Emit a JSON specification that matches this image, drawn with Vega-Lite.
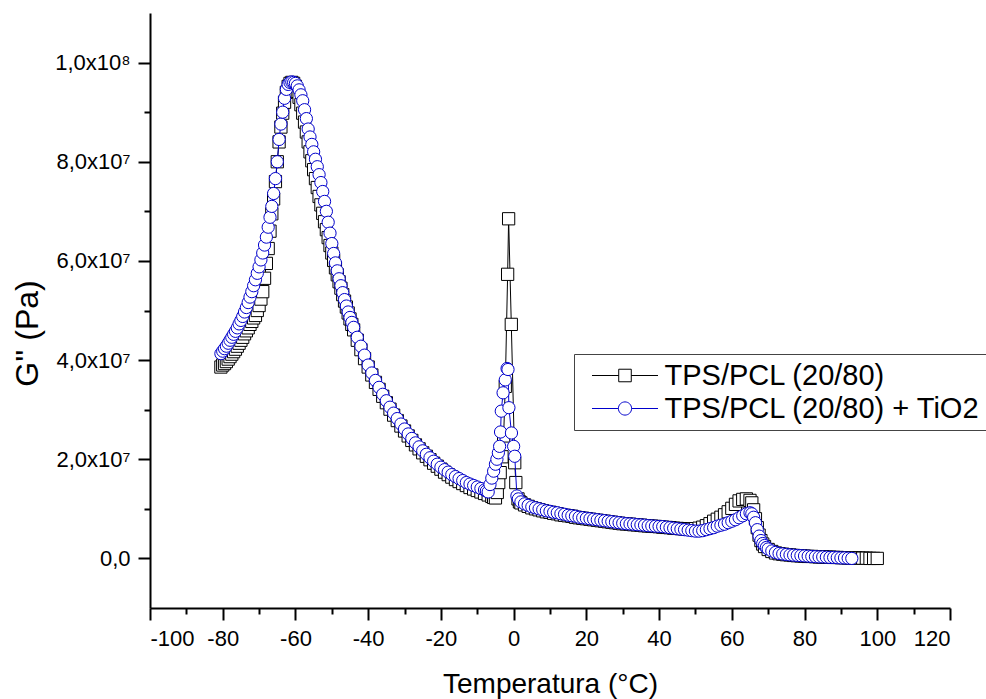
{
  "$schema": "https://vega.github.io/schema/vega-lite/v6.json",
  "width": 800,
  "height": 595,
  "autosize": {"type": "none"},
  "padding": {"left": 150, "top": 13, "right": 36, "bottom": 91},
  "background": "white",
  "config": {
    "view": {"stroke": null},
    "font": "Liberation Sans"
  },
  "data": {"values": [
    {"amostra":"TPS/PCL (20/80)","T":-80.5,"G":38.6e6},{"amostra":"TPS/PCL (20/80)","T":-80,"G":39.0e6},{"amostra":"TPS/PCL (20/80)","T":-79.5,"G":39.3e6},{"amostra":"TPS/PCL (20/80)","T":-79,"G":39.7e6},{"amostra":"TPS/PCL (20/80)","T":-78.5,"G":40.2e6},{"amostra":"TPS/PCL (20/80)","T":-78,"G":40.7e6},{"amostra":"TPS/PCL (20/80)","T":-77.5,"G":41.2e6},{"amostra":"TPS/PCL (20/80)","T":-77,"G":41.7e6},{"amostra":"TPS/PCL (20/80)","T":-76.5,"G":42.2e6},{"amostra":"TPS/PCL (20/80)","T":-76,"G":42.8e6},{"amostra":"TPS/PCL (20/80)","T":-75.5,"G":43.4e6},{"amostra":"TPS/PCL (20/80)","T":-75,"G":44.0e6},{"amostra":"TPS/PCL (20/80)","T":-74.5,"G":44.6e6},{"amostra":"TPS/PCL (20/80)","T":-74,"G":45.3e6},{"amostra":"TPS/PCL (20/80)","T":-73.5,"G":45.9e6},{"amostra":"TPS/PCL (20/80)","T":-73,"G":46.5e6},{"amostra":"TPS/PCL (20/80)","T":-72.5,"G":47.2e6},{"amostra":"TPS/PCL (20/80)","T":-72,"G":47.8e6},{"amostra":"TPS/PCL (20/80)","T":-71.5,"G":48.5e6},{"amostra":"TPS/PCL (20/80)","T":-71,"G":49.0e6},{"amostra":"TPS/PCL (20/80)","T":-70.5,"G":50.0e6},{"amostra":"TPS/PCL (20/80)","T":-70,"G":51.0e6},{"amostra":"TPS/PCL (20/80)","T":-69.5,"G":52.3e6},{"amostra":"TPS/PCL (20/80)","T":-69,"G":53.8e6},{"amostra":"TPS/PCL (20/80)","T":-68.5,"G":56.5e6},{"amostra":"TPS/PCL (20/80)","T":-68,"G":59.5e6},{"amostra":"TPS/PCL (20/80)","T":-67.5,"G":62.5e6},{"amostra":"TPS/PCL (20/80)","T":-67,"G":66.0e6},{"amostra":"TPS/PCL (20/80)","T":-66.5,"G":69.5e6},{"amostra":"TPS/PCL (20/80)","T":-66,"G":72.5e6},{"amostra":"TPS/PCL (20/80)","T":-65.5,"G":76.0e6},{"amostra":"TPS/PCL (20/80)","T":-65,"G":80.0e6},{"amostra":"TPS/PCL (20/80)","T":-64.5,"G":84.0e6},{"amostra":"TPS/PCL (20/80)","T":-64,"G":87.0e6},{"amostra":"TPS/PCL (20/80)","T":-63.5,"G":89.8e6},{"amostra":"TPS/PCL (20/80)","T":-63,"G":92.0e6},{"amostra":"TPS/PCL (20/80)","T":-62.5,"G":94.0e6},{"amostra":"TPS/PCL (20/80)","T":-62,"G":95.2e6},{"amostra":"TPS/PCL (20/80)","T":-61.5,"G":95.8e6},{"amostra":"TPS/PCL (20/80)","T":-61,"G":96.0e6},{"amostra":"TPS/PCL (20/80)","T":-60.5,"G":95.8e6},{"amostra":"TPS/PCL (20/80)","T":-60,"G":95.2e6},{"amostra":"TPS/PCL (20/80)","T":-59.5,"G":94.2e6},{"amostra":"TPS/PCL (20/80)","T":-59,"G":93.0e6},{"amostra":"TPS/PCL (20/80)","T":-58.5,"G":91.5e6},{"amostra":"TPS/PCL (20/80)","T":-58,"G":89.8e6},{"amostra":"TPS/PCL (20/80)","T":-57.5,"G":88.0e6},{"amostra":"TPS/PCL (20/80)","T":-57,"G":86.0e6},{"amostra":"TPS/PCL (20/80)","T":-56.5,"G":84.0e6},{"amostra":"TPS/PCL (20/80)","T":-56,"G":82.0e6},{"amostra":"TPS/PCL (20/80)","T":-55.5,"G":80.2e6},{"amostra":"TPS/PCL (20/80)","T":-55,"G":78.4e6},{"amostra":"TPS/PCL (20/80)","T":-54.5,"G":76.6e6},{"amostra":"TPS/PCL (20/80)","T":-54,"G":74.8e6},{"amostra":"TPS/PCL (20/80)","T":-53.5,"G":73.0e6},{"amostra":"TPS/PCL (20/80)","T":-53,"G":71.3e6},{"amostra":"TPS/PCL (20/80)","T":-52.5,"G":69.6e6},{"amostra":"TPS/PCL (20/80)","T":-52,"G":67.9e6},{"amostra":"TPS/PCL (20/80)","T":-51.5,"G":66.3e6},{"amostra":"TPS/PCL (20/80)","T":-51,"G":64.7e6},{"amostra":"TPS/PCL (20/80)","T":-50.5,"G":63.1e6},{"amostra":"TPS/PCL (20/80)","T":-50,"G":61.6e6},{"amostra":"TPS/PCL (20/80)","T":-49.5,"G":60.1e6},{"amostra":"TPS/PCL (20/80)","T":-49,"G":58.6e6},{"amostra":"TPS/PCL (20/80)","T":-48.5,"G":57.2e6},{"amostra":"TPS/PCL (20/80)","T":-48,"G":55.8e6},{"amostra":"TPS/PCL (20/80)","T":-47.5,"G":54.5e6},{"amostra":"TPS/PCL (20/80)","T":-47,"G":53.2e6},{"amostra":"TPS/PCL (20/80)","T":-46.5,"G":51.9e6},{"amostra":"TPS/PCL (20/80)","T":-46,"G":50.7e6},{"amostra":"TPS/PCL (20/80)","T":-45.5,"G":49.5e6},{"amostra":"TPS/PCL (20/80)","T":-45,"G":48.3e6},{"amostra":"TPS/PCL (20/80)","T":-44.5,"G":47.2e6},{"amostra":"TPS/PCL (20/80)","T":-44,"G":46.1e6},{"amostra":"TPS/PCL (20/80)","T":-43,"G":44.0e6},{"amostra":"TPS/PCL (20/80)","T":-42,"G":42.1e6},{"amostra":"TPS/PCL (20/80)","T":-41,"G":40.3e6},{"amostra":"TPS/PCL (20/80)","T":-40,"G":38.6e6},{"amostra":"TPS/PCL (20/80)","T":-39,"G":37.0e6},{"amostra":"TPS/PCL (20/80)","T":-38,"G":35.5e6},{"amostra":"TPS/PCL (20/80)","T":-37,"G":34.1e6},{"amostra":"TPS/PCL (20/80)","T":-36,"G":32.7e6},{"amostra":"TPS/PCL (20/80)","T":-35,"G":31.4e6},{"amostra":"TPS/PCL (20/80)","T":-34,"G":30.1e6},{"amostra":"TPS/PCL (20/80)","T":-33,"G":28.9e6},{"amostra":"TPS/PCL (20/80)","T":-32,"G":27.8e6},{"amostra":"TPS/PCL (20/80)","T":-31,"G":26.7e6},{"amostra":"TPS/PCL (20/80)","T":-30,"G":25.7e6},{"amostra":"TPS/PCL (20/80)","T":-29,"G":24.7e6},{"amostra":"TPS/PCL (20/80)","T":-28,"G":23.8e6},{"amostra":"TPS/PCL (20/80)","T":-27,"G":22.9e6},{"amostra":"TPS/PCL (20/80)","T":-26,"G":22.1e6},{"amostra":"TPS/PCL (20/80)","T":-25,"G":21.3e6},{"amostra":"TPS/PCL (20/80)","T":-24,"G":20.6e6},{"amostra":"TPS/PCL (20/80)","T":-23,"G":19.9e6},{"amostra":"TPS/PCL (20/80)","T":-22,"G":19.2e6},{"amostra":"TPS/PCL (20/80)","T":-21,"G":18.6e6},{"amostra":"TPS/PCL (20/80)","T":-20,"G":18.0e6},{"amostra":"TPS/PCL (20/80)","T":-19,"G":17.4e6},{"amostra":"TPS/PCL (20/80)","T":-18,"G":16.9e6},{"amostra":"TPS/PCL (20/80)","T":-17,"G":16.4e6},{"amostra":"TPS/PCL (20/80)","T":-16,"G":15.9e6},{"amostra":"TPS/PCL (20/80)","T":-15,"G":15.5e6},{"amostra":"TPS/PCL (20/80)","T":-14,"G":15.1e6},{"amostra":"TPS/PCL (20/80)","T":-13,"G":14.7e6},{"amostra":"TPS/PCL (20/80)","T":-12,"G":14.3e6},{"amostra":"TPS/PCL (20/80)","T":-11,"G":14.0e6},{"amostra":"TPS/PCL (20/80)","T":-10,"G":13.7e6},{"amostra":"TPS/PCL (20/80)","T":-9,"G":13.4e6},{"amostra":"TPS/PCL (20/80)","T":-8,"G":13.1e6},{"amostra":"TPS/PCL (20/80)","T":-7,"G":12.8e6},{"amostra":"TPS/PCL (20/80)","T":-6,"G":12.5e6},{"amostra":"TPS/PCL (20/80)","T":-5.5,"G":12.3e6},{"amostra":"TPS/PCL (20/80)","T":-5,"G":12.2e6},{"amostra":"TPS/PCL (20/80)","T":-4.5,"G":13.3e6},{"amostra":"TPS/PCL (20/80)","T":-4.1,"G":15.3e6},{"amostra":"TPS/PCL (20/80)","T":-3.7,"G":17.3e6},{"amostra":"TPS/PCL (20/80)","T":-3.2,"G":20.5e6},{"amostra":"TPS/PCL (20/80)","T":-2.75,"G":24.7e6},{"amostra":"TPS/PCL (20/80)","T":-2.3,"G":34.7e6},{"amostra":"TPS/PCL (20/80)","T":-1.65,"G":57.3e6},{"amostra":"TPS/PCL (20/80)","T":-1.38,"G":68.5e6},{"amostra":"TPS/PCL (20/80)","T":-0.64,"G":47.2e6},{"amostra":"TPS/PCL (20/80)","T":0.3,"G":19.3e6},{"amostra":"TPS/PCL (20/80)","T":0.6,"G":15.3e6},{"amostra":"TPS/PCL (20/80)","T":1.2,"G":12.0e6},{"amostra":"TPS/PCL (20/80)","T":1.6,"G":11.4e6},{"amostra":"TPS/PCL (20/80)","T":2,"G":11.2e6},{"amostra":"TPS/PCL (20/80)","T":3,"G":10.8e6},{"amostra":"TPS/PCL (20/80)","T":4,"G":10.5e6},{"amostra":"TPS/PCL (20/80)","T":5,"G":10.2e6},{"amostra":"TPS/PCL (20/80)","T":6,"G":10.0e6},{"amostra":"TPS/PCL (20/80)","T":7,"G":9.8e6},{"amostra":"TPS/PCL (20/80)","T":8,"G":9.6e6},{"amostra":"TPS/PCL (20/80)","T":9,"G":9.4e6},{"amostra":"TPS/PCL (20/80)","T":10,"G":9.3e6},{"amostra":"TPS/PCL (20/80)","T":11,"G":9.1e6},{"amostra":"TPS/PCL (20/80)","T":12,"G":9.0e6},{"amostra":"TPS/PCL (20/80)","T":13,"G":8.8e6},{"amostra":"TPS/PCL (20/80)","T":14,"G":8.7e6},{"amostra":"TPS/PCL (20/80)","T":15,"G":8.6e6},{"amostra":"TPS/PCL (20/80)","T":16,"G":8.5e6},{"amostra":"TPS/PCL (20/80)","T":17,"G":8.3e6},{"amostra":"TPS/PCL (20/80)","T":18,"G":8.2e6},{"amostra":"TPS/PCL (20/80)","T":19,"G":8.1e6},{"amostra":"TPS/PCL (20/80)","T":20,"G":8.0e6},{"amostra":"TPS/PCL (20/80)","T":21,"G":7.9e6},{"amostra":"TPS/PCL (20/80)","T":22,"G":7.8e6},{"amostra":"TPS/PCL (20/80)","T":23,"G":7.7e6},{"amostra":"TPS/PCL (20/80)","T":24,"G":7.6e6},{"amostra":"TPS/PCL (20/80)","T":25,"G":7.5e6},{"amostra":"TPS/PCL (20/80)","T":26,"G":7.4e6},{"amostra":"TPS/PCL (20/80)","T":27,"G":7.3e6},{"amostra":"TPS/PCL (20/80)","T":28,"G":7.2e6},{"amostra":"TPS/PCL (20/80)","T":29,"G":7.1e6},{"amostra":"TPS/PCL (20/80)","T":30,"G":7.0e6},{"amostra":"TPS/PCL (20/80)","T":31,"G":6.95e6},{"amostra":"TPS/PCL (20/80)","T":32,"G":6.9e6},{"amostra":"TPS/PCL (20/80)","T":33,"G":6.8e6},{"amostra":"TPS/PCL (20/80)","T":34,"G":6.75e6},{"amostra":"TPS/PCL (20/80)","T":35,"G":6.7e6},{"amostra":"TPS/PCL (20/80)","T":36,"G":6.6e6},{"amostra":"TPS/PCL (20/80)","T":37,"G":6.55e6},{"amostra":"TPS/PCL (20/80)","T":38,"G":6.5e6},{"amostra":"TPS/PCL (20/80)","T":39,"G":6.45e6},{"amostra":"TPS/PCL (20/80)","T":40,"G":6.4e6},{"amostra":"TPS/PCL (20/80)","T":41,"G":6.3e6},{"amostra":"TPS/PCL (20/80)","T":42,"G":6.25e6},{"amostra":"TPS/PCL (20/80)","T":43,"G":6.2e6},{"amostra":"TPS/PCL (20/80)","T":44,"G":6.1e6},{"amostra":"TPS/PCL (20/80)","T":45,"G":6.05e6},{"amostra":"TPS/PCL (20/80)","T":46,"G":6.0e6},{"amostra":"TPS/PCL (20/80)","T":47,"G":5.95e6},{"amostra":"TPS/PCL (20/80)","T":48,"G":5.9e6},{"amostra":"TPS/PCL (20/80)","T":49,"G":5.9e6},{"amostra":"TPS/PCL (20/80)","T":50,"G":6.0e6},{"amostra":"TPS/PCL (20/80)","T":51,"G":6.1e6},{"amostra":"TPS/PCL (20/80)","T":52,"G":6.3e6},{"amostra":"TPS/PCL (20/80)","T":53,"G":6.6e6},{"amostra":"TPS/PCL (20/80)","T":54,"G":7.0e6},{"amostra":"TPS/PCL (20/80)","T":55,"G":7.5e6},{"amostra":"TPS/PCL (20/80)","T":56,"G":7.9e6},{"amostra":"TPS/PCL (20/80)","T":57,"G":8.3e6},{"amostra":"TPS/PCL (20/80)","T":58,"G":8.8e6},{"amostra":"TPS/PCL (20/80)","T":59,"G":9.4e6},{"amostra":"TPS/PCL (20/80)","T":60,"G":10.1e6},{"amostra":"TPS/PCL (20/80)","T":61,"G":10.9e6},{"amostra":"TPS/PCL (20/80)","T":62,"G":11.6e6},{"amostra":"TPS/PCL (20/80)","T":63,"G":11.9e6},{"amostra":"TPS/PCL (20/80)","T":64,"G":12.0e6},{"amostra":"TPS/PCL (20/80)","T":65,"G":11.7e6},{"amostra":"TPS/PCL (20/80)","T":65.5,"G":11.2e6},{"amostra":"TPS/PCL (20/80)","T":66,"G":9.8e6},{"amostra":"TPS/PCL (20/80)","T":66.5,"G":8.0e6},{"amostra":"TPS/PCL (20/80)","T":67,"G":6.2e6},{"amostra":"TPS/PCL (20/80)","T":67.5,"G":4.7e6},{"amostra":"TPS/PCL (20/80)","T":68,"G":3.6e6},{"amostra":"TPS/PCL (20/80)","T":68.5,"G":2.9e6},{"amostra":"TPS/PCL (20/80)","T":69,"G":2.4e6},{"amostra":"TPS/PCL (20/80)","T":70,"G":1.8e6},{"amostra":"TPS/PCL (20/80)","T":71,"G":1.4e6},{"amostra":"TPS/PCL (20/80)","T":72,"G":1.1e6},{"amostra":"TPS/PCL (20/80)","T":73,"G":0.95e6},{"amostra":"TPS/PCL (20/80)","T":74,"G":0.85e6},{"amostra":"TPS/PCL (20/80)","T":75,"G":0.75e6},{"amostra":"TPS/PCL (20/80)","T":76,"G":0.7e6},{"amostra":"TPS/PCL (20/80)","T":77,"G":0.6e6},{"amostra":"TPS/PCL (20/80)","T":78,"G":0.55e6},{"amostra":"TPS/PCL (20/80)","T":79,"G":0.5e6},{"amostra":"TPS/PCL (20/80)","T":80,"G":0.45e6},{"amostra":"TPS/PCL (20/80)","T":81,"G":0.4e6},{"amostra":"TPS/PCL (20/80)","T":82,"G":0.4e6},{"amostra":"TPS/PCL (20/80)","T":83,"G":0.35e6},{"amostra":"TPS/PCL (20/80)","T":84,"G":0.3e6},{"amostra":"TPS/PCL (20/80)","T":85,"G":0.3e6},{"amostra":"TPS/PCL (20/80)","T":86,"G":0.25e6},{"amostra":"TPS/PCL (20/80)","T":87,"G":0.25e6},{"amostra":"TPS/PCL (20/80)","T":88,"G":0.2e6},{"amostra":"TPS/PCL (20/80)","T":89,"G":0.2e6},{"amostra":"TPS/PCL (20/80)","T":90,"G":0.15e6},{"amostra":"TPS/PCL (20/80)","T":91,"G":0.15e6},{"amostra":"TPS/PCL (20/80)","T":92,"G":0.1e6},{"amostra":"TPS/PCL (20/80)","T":93,"G":0.1e6},{"amostra":"TPS/PCL (20/80)","T":94,"G":0.1e6},{"amostra":"TPS/PCL (20/80)","T":95,"G":0.05e6},{"amostra":"TPS/PCL (20/80)","T":96,"G":0.05e6},{"amostra":"TPS/PCL (20/80)","T":97,"G":0.05e6},{"amostra":"TPS/PCL (20/80)","T":98,"G":0},{"amostra":"TPS/PCL (20/80)","T":99,"G":0},{"amostra":"TPS/PCL (20/80)","T":100,"G":0},
    {"amostra":"TPS/PCL (20/80) + TiO2","T":-80.5,"G":41.3e6},{"amostra":"TPS/PCL (20/80) + TiO2","T":-80,"G":41.8e6},{"amostra":"TPS/PCL (20/80) + TiO2","T":-79.5,"G":42.3e6},{"amostra":"TPS/PCL (20/80) + TiO2","T":-79,"G":42.8e6},{"amostra":"TPS/PCL (20/80) + TiO2","T":-78.5,"G":43.4e6},{"amostra":"TPS/PCL (20/80) + TiO2","T":-78,"G":44.0e6},{"amostra":"TPS/PCL (20/80) + TiO2","T":-77.5,"G":44.6e6},{"amostra":"TPS/PCL (20/80) + TiO2","T":-77,"G":45.2e6},{"amostra":"TPS/PCL (20/80) + TiO2","T":-76.5,"G":45.8e6},{"amostra":"TPS/PCL (20/80) + TiO2","T":-76,"G":46.5e6},{"amostra":"TPS/PCL (20/80) + TiO2","T":-75.5,"G":47.3e6},{"amostra":"TPS/PCL (20/80) + TiO2","T":-75,"G":48.0e6},{"amostra":"TPS/PCL (20/80) + TiO2","T":-74.5,"G":48.8e6},{"amostra":"TPS/PCL (20/80) + TiO2","T":-74,"G":49.7e6},{"amostra":"TPS/PCL (20/80) + TiO2","T":-73.5,"G":50.6e6},{"amostra":"TPS/PCL (20/80) + TiO2","T":-73,"G":51.6e6},{"amostra":"TPS/PCL (20/80) + TiO2","T":-72.5,"G":52.7e6},{"amostra":"TPS/PCL (20/80) + TiO2","T":-72,"G":53.8e6},{"amostra":"TPS/PCL (20/80) + TiO2","T":-71.5,"G":55.0e6},{"amostra":"TPS/PCL (20/80) + TiO2","T":-71,"G":56.2e6},{"amostra":"TPS/PCL (20/80) + TiO2","T":-70.5,"G":57.5e6},{"amostra":"TPS/PCL (20/80) + TiO2","T":-70,"G":58.8e6},{"amostra":"TPS/PCL (20/80) + TiO2","T":-69.5,"G":60.2e6},{"amostra":"TPS/PCL (20/80) + TiO2","T":-69,"G":61.6e6},{"amostra":"TPS/PCL (20/80) + TiO2","T":-68.5,"G":63.2e6},{"amostra":"TPS/PCL (20/80) + TiO2","T":-68,"G":64.8e6},{"amostra":"TPS/PCL (20/80) + TiO2","T":-67.5,"G":66.8e6},{"amostra":"TPS/PCL (20/80) + TiO2","T":-67,"G":68.8e6},{"amostra":"TPS/PCL (20/80) + TiO2","T":-66.5,"G":71.0e6},{"amostra":"TPS/PCL (20/80) + TiO2","T":-66,"G":73.6e6},{"amostra":"TPS/PCL (20/80) + TiO2","T":-65.5,"G":76.6e6},{"amostra":"TPS/PCL (20/80) + TiO2","T":-65,"G":80.0e6},{"amostra":"TPS/PCL (20/80) + TiO2","T":-64.5,"G":84.5e6},{"amostra":"TPS/PCL (20/80) + TiO2","T":-64,"G":87.6e6},{"amostra":"TPS/PCL (20/80) + TiO2","T":-63.5,"G":90.0e6},{"amostra":"TPS/PCL (20/80) + TiO2","T":-63,"G":92.8e6},{"amostra":"TPS/PCL (20/80) + TiO2","T":-62.5,"G":94.6e6},{"amostra":"TPS/PCL (20/80) + TiO2","T":-62,"G":95.6e6},{"amostra":"TPS/PCL (20/80) + TiO2","T":-61.5,"G":96.0e6},{"amostra":"TPS/PCL (20/80) + TiO2","T":-61,"G":96.1e6},{"amostra":"TPS/PCL (20/80) + TiO2","T":-60.5,"G":96.0e6},{"amostra":"TPS/PCL (20/80) + TiO2","T":-60,"G":95.8e6},{"amostra":"TPS/PCL (20/80) + TiO2","T":-59.5,"G":95.3e6},{"amostra":"TPS/PCL (20/80) + TiO2","T":-59,"G":94.5e6},{"amostra":"TPS/PCL (20/80) + TiO2","T":-58.5,"G":93.5e6},{"amostra":"TPS/PCL (20/80) + TiO2","T":-58,"G":92.3e6},{"amostra":"TPS/PCL (20/80) + TiO2","T":-57.5,"G":90.5e6},{"amostra":"TPS/PCL (20/80) + TiO2","T":-57,"G":88.7e6},{"amostra":"TPS/PCL (20/80) + TiO2","T":-56.5,"G":86.6e6},{"amostra":"TPS/PCL (20/80) + TiO2","T":-56,"G":85.0e6},{"amostra":"TPS/PCL (20/80) + TiO2","T":-55.5,"G":83.5e6},{"amostra":"TPS/PCL (20/80) + TiO2","T":-55,"G":82.0e6},{"amostra":"TPS/PCL (20/80) + TiO2","T":-54.5,"G":80.5e6},{"amostra":"TPS/PCL (20/80) + TiO2","T":-54,"G":79.0e6},{"amostra":"TPS/PCL (20/80) + TiO2","T":-53.5,"G":77.4e6},{"amostra":"TPS/PCL (20/80) + TiO2","T":-53,"G":75.8e6},{"amostra":"TPS/PCL (20/80) + TiO2","T":-52.5,"G":74.0e6},{"amostra":"TPS/PCL (20/80) + TiO2","T":-52,"G":72.0e6},{"amostra":"TPS/PCL (20/80) + TiO2","T":-51.5,"G":70.0e6},{"amostra":"TPS/PCL (20/80) + TiO2","T":-51,"G":67.8e6},{"amostra":"TPS/PCL (20/80) + TiO2","T":-50.5,"G":65.6e6},{"amostra":"TPS/PCL (20/80) + TiO2","T":-50,"G":63.5e6},{"amostra":"TPS/PCL (20/80) + TiO2","T":-49.5,"G":61.5e6},{"amostra":"TPS/PCL (20/80) + TiO2","T":-49,"G":59.6e6},{"amostra":"TPS/PCL (20/80) + TiO2","T":-48.5,"G":58.0e6},{"amostra":"TPS/PCL (20/80) + TiO2","T":-48,"G":56.4e6},{"amostra":"TPS/PCL (20/80) + TiO2","T":-47.5,"G":55.0e6},{"amostra":"TPS/PCL (20/80) + TiO2","T":-47,"G":53.6e6},{"amostra":"TPS/PCL (20/80) + TiO2","T":-46.5,"G":52.2e6},{"amostra":"TPS/PCL (20/80) + TiO2","T":-46,"G":50.9e6},{"amostra":"TPS/PCL (20/80) + TiO2","T":-45.5,"G":49.7e6},{"amostra":"TPS/PCL (20/80) + TiO2","T":-45,"G":48.6e6},{"amostra":"TPS/PCL (20/80) + TiO2","T":-44.5,"G":47.6e6},{"amostra":"TPS/PCL (20/80) + TiO2","T":-44,"G":46.6e6},{"amostra":"TPS/PCL (20/80) + TiO2","T":-43,"G":44.6e6},{"amostra":"TPS/PCL (20/80) + TiO2","T":-42,"G":42.8e6},{"amostra":"TPS/PCL (20/80) + TiO2","T":-41,"G":41.0e6},{"amostra":"TPS/PCL (20/80) + TiO2","T":-40,"G":39.0e6},{"amostra":"TPS/PCL (20/80) + TiO2","T":-39,"G":37.4e6},{"amostra":"TPS/PCL (20/80) + TiO2","T":-38,"G":35.9e6},{"amostra":"TPS/PCL (20/80) + TiO2","T":-37,"G":34.5e6},{"amostra":"TPS/PCL (20/80) + TiO2","T":-36,"G":33.1e6},{"amostra":"TPS/PCL (20/80) + TiO2","T":-35,"G":31.8e6},{"amostra":"TPS/PCL (20/80) + TiO2","T":-34,"G":30.5e6},{"amostra":"TPS/PCL (20/80) + TiO2","T":-33,"G":29.3e6},{"amostra":"TPS/PCL (20/80) + TiO2","T":-32,"G":28.2e6},{"amostra":"TPS/PCL (20/80) + TiO2","T":-31,"G":27.1e6},{"amostra":"TPS/PCL (20/80) + TiO2","T":-30,"G":26.1e6},{"amostra":"TPS/PCL (20/80) + TiO2","T":-29,"G":25.1e6},{"amostra":"TPS/PCL (20/80) + TiO2","T":-28,"G":24.2e6},{"amostra":"TPS/PCL (20/80) + TiO2","T":-27,"G":23.3e6},{"amostra":"TPS/PCL (20/80) + TiO2","T":-26,"G":22.5e6},{"amostra":"TPS/PCL (20/80) + TiO2","T":-25,"G":21.7e6},{"amostra":"TPS/PCL (20/80) + TiO2","T":-24,"G":21.0e6},{"amostra":"TPS/PCL (20/80) + TiO2","T":-23,"G":20.3e6},{"amostra":"TPS/PCL (20/80) + TiO2","T":-22,"G":19.6e6},{"amostra":"TPS/PCL (20/80) + TiO2","T":-21,"G":19.0e6},{"amostra":"TPS/PCL (20/80) + TiO2","T":-20,"G":18.4e6},{"amostra":"TPS/PCL (20/80) + TiO2","T":-19,"G":17.9e6},{"amostra":"TPS/PCL (20/80) + TiO2","T":-18,"G":17.4e6},{"amostra":"TPS/PCL (20/80) + TiO2","T":-17,"G":16.9e6},{"amostra":"TPS/PCL (20/80) + TiO2","T":-16,"G":16.5e6},{"amostra":"TPS/PCL (20/80) + TiO2","T":-15,"G":16.1e6},{"amostra":"TPS/PCL (20/80) + TiO2","T":-14,"G":15.7e6},{"amostra":"TPS/PCL (20/80) + TiO2","T":-13,"G":15.3e6},{"amostra":"TPS/PCL (20/80) + TiO2","T":-12,"G":15.0e6},{"amostra":"TPS/PCL (20/80) + TiO2","T":-11,"G":14.7e6},{"amostra":"TPS/PCL (20/80) + TiO2","T":-10,"G":14.4e6},{"amostra":"TPS/PCL (20/80) + TiO2","T":-9,"G":14.1e6},{"amostra":"TPS/PCL (20/80) + TiO2","T":-8,"G":13.8e6},{"amostra":"TPS/PCL (20/80) + TiO2","T":-7.5,"G":13.6e6},{"amostra":"TPS/PCL (20/80) + TiO2","T":-7,"G":13.4e6},{"amostra":"TPS/PCL (20/80) + TiO2","T":-6.5,"G":14.9e6},{"amostra":"TPS/PCL (20/80) + TiO2","T":-6,"G":16.2e6},{"amostra":"TPS/PCL (20/80) + TiO2","T":-5.5,"G":17.6e6},{"amostra":"TPS/PCL (20/80) + TiO2","T":-5,"G":19.0e6},{"amostra":"TPS/PCL (20/80) + TiO2","T":-4.6,"G":20.0e6},{"amostra":"TPS/PCL (20/80) + TiO2","T":-4.2,"G":21.3e6},{"amostra":"TPS/PCL (20/80) + TiO2","T":-3.85,"G":22.6e6},{"amostra":"TPS/PCL (20/80) + TiO2","T":-3.6,"G":25.5e6},{"amostra":"TPS/PCL (20/80) + TiO2","T":-3.4,"G":29.7e6},{"amostra":"TPS/PCL (20/80) + TiO2","T":-2.9,"G":33.4e6},{"amostra":"TPS/PCL (20/80) + TiO2","T":-2.3,"G":36.0e6},{"amostra":"TPS/PCL (20/80) + TiO2","T":-1.8,"G":38.3e6},{"amostra":"TPS/PCL (20/80) + TiO2","T":-1.55,"G":38.1e6},{"amostra":"TPS/PCL (20/80) + TiO2","T":-1.3,"G":30.4e6},{"amostra":"TPS/PCL (20/80) + TiO2","T":-0.6,"G":25.3e6},{"amostra":"TPS/PCL (20/80) + TiO2","T":0,"G":22.6e6},{"amostra":"TPS/PCL (20/80) + TiO2","T":0.3,"G":20.6e6},{"amostra":"TPS/PCL (20/80) + TiO2","T":0.9,"G":12.6e6},{"amostra":"TPS/PCL (20/80) + TiO2","T":1.3,"G":12.0e6},{"amostra":"TPS/PCL (20/80) + TiO2","T":2,"G":11.4e6},{"amostra":"TPS/PCL (20/80) + TiO2","T":3,"G":11.0e6},{"amostra":"TPS/PCL (20/80) + TiO2","T":4,"G":10.7e6},{"amostra":"TPS/PCL (20/80) + TiO2","T":5,"G":10.4e6},{"amostra":"TPS/PCL (20/80) + TiO2","T":6,"G":10.2e6},{"amostra":"TPS/PCL (20/80) + TiO2","T":7,"G":10.0e6},{"amostra":"TPS/PCL (20/80) + TiO2","T":8,"G":9.8e6},{"amostra":"TPS/PCL (20/80) + TiO2","T":9,"G":9.6e6},{"amostra":"TPS/PCL (20/80) + TiO2","T":10,"G":9.5e6},{"amostra":"TPS/PCL (20/80) + TiO2","T":11,"G":9.3e6},{"amostra":"TPS/PCL (20/80) + TiO2","T":12,"G":9.2e6},{"amostra":"TPS/PCL (20/80) + TiO2","T":13,"G":9.0e6},{"amostra":"TPS/PCL (20/80) + TiO2","T":14,"G":8.9e6},{"amostra":"TPS/PCL (20/80) + TiO2","T":15,"G":8.7e6},{"amostra":"TPS/PCL (20/80) + TiO2","T":16,"G":8.6e6},{"amostra":"TPS/PCL (20/80) + TiO2","T":17,"G":8.5e6},{"amostra":"TPS/PCL (20/80) + TiO2","T":18,"G":8.3e6},{"amostra":"TPS/PCL (20/80) + TiO2","T":19,"G":8.2e6},{"amostra":"TPS/PCL (20/80) + TiO2","T":20,"G":8.1e6},{"amostra":"TPS/PCL (20/80) + TiO2","T":21,"G":8.0e6},{"amostra":"TPS/PCL (20/80) + TiO2","T":22,"G":7.9e6},{"amostra":"TPS/PCL (20/80) + TiO2","T":23,"G":7.8e6},{"amostra":"TPS/PCL (20/80) + TiO2","T":24,"G":7.7e6},{"amostra":"TPS/PCL (20/80) + TiO2","T":25,"G":7.6e6},{"amostra":"TPS/PCL (20/80) + TiO2","T":26,"G":7.5e6},{"amostra":"TPS/PCL (20/80) + TiO2","T":27,"G":7.4e6},{"amostra":"TPS/PCL (20/80) + TiO2","T":28,"G":7.3e6},{"amostra":"TPS/PCL (20/80) + TiO2","T":29,"G":7.2e6},{"amostra":"TPS/PCL (20/80) + TiO2","T":30,"G":7.1e6},{"amostra":"TPS/PCL (20/80) + TiO2","T":31,"G":7.0e6},{"amostra":"TPS/PCL (20/80) + TiO2","T":32,"G":6.95e6},{"amostra":"TPS/PCL (20/80) + TiO2","T":33,"G":6.9e6},{"amostra":"TPS/PCL (20/80) + TiO2","T":34,"G":6.8e6},{"amostra":"TPS/PCL (20/80) + TiO2","T":35,"G":6.75e6},{"amostra":"TPS/PCL (20/80) + TiO2","T":36,"G":6.7e6},{"amostra":"TPS/PCL (20/80) + TiO2","T":37,"G":6.6e6},{"amostra":"TPS/PCL (20/80) + TiO2","T":38,"G":6.55e6},{"amostra":"TPS/PCL (20/80) + TiO2","T":39,"G":6.5e6},{"amostra":"TPS/PCL (20/80) + TiO2","T":40,"G":6.45e6},{"amostra":"TPS/PCL (20/80) + TiO2","T":41,"G":6.4e6},{"amostra":"TPS/PCL (20/80) + TiO2","T":42,"G":6.3e6},{"amostra":"TPS/PCL (20/80) + TiO2","T":43,"G":6.2e6},{"amostra":"TPS/PCL (20/80) + TiO2","T":44,"G":6.1e6},{"amostra":"TPS/PCL (20/80) + TiO2","T":45,"G":6.0e6},{"amostra":"TPS/PCL (20/80) + TiO2","T":46,"G":5.9e6},{"amostra":"TPS/PCL (20/80) + TiO2","T":47,"G":5.8e6},{"amostra":"TPS/PCL (20/80) + TiO2","T":48,"G":5.7e6},{"amostra":"TPS/PCL (20/80) + TiO2","T":49,"G":5.6e6},{"amostra":"TPS/PCL (20/80) + TiO2","T":50,"G":5.5e6},{"amostra":"TPS/PCL (20/80) + TiO2","T":51,"G":5.5e6},{"amostra":"TPS/PCL (20/80) + TiO2","T":52,"G":5.6e6},{"amostra":"TPS/PCL (20/80) + TiO2","T":53,"G":5.8e6},{"amostra":"TPS/PCL (20/80) + TiO2","T":54,"G":6.0e6},{"amostra":"TPS/PCL (20/80) + TiO2","T":55,"G":6.2e6},{"amostra":"TPS/PCL (20/80) + TiO2","T":56,"G":6.5e6},{"amostra":"TPS/PCL (20/80) + TiO2","T":57,"G":6.7e6},{"amostra":"TPS/PCL (20/80) + TiO2","T":58,"G":6.9e6},{"amostra":"TPS/PCL (20/80) + TiO2","T":59,"G":7.2e6},{"amostra":"TPS/PCL (20/80) + TiO2","T":60,"G":7.5e6},{"amostra":"TPS/PCL (20/80) + TiO2","T":61,"G":7.8e6},{"amostra":"TPS/PCL (20/80) + TiO2","T":62,"G":8.2e6},{"amostra":"TPS/PCL (20/80) + TiO2","T":63,"G":8.6e6},{"amostra":"TPS/PCL (20/80) + TiO2","T":64,"G":9.0e6},{"amostra":"TPS/PCL (20/80) + TiO2","T":65,"G":9.2e6},{"amostra":"TPS/PCL (20/80) + TiO2","T":65.5,"G":9.0e6},{"amostra":"TPS/PCL (20/80) + TiO2","T":66,"G":8.3e6},{"amostra":"TPS/PCL (20/80) + TiO2","T":66.5,"G":7.2e6},{"amostra":"TPS/PCL (20/80) + TiO2","T":67,"G":5.8e6},{"amostra":"TPS/PCL (20/80) + TiO2","T":67.5,"G":4.5e6},{"amostra":"TPS/PCL (20/80) + TiO2","T":68,"G":3.6e6},{"amostra":"TPS/PCL (20/80) + TiO2","T":68.5,"G":3.0e6},{"amostra":"TPS/PCL (20/80) + TiO2","T":69,"G":2.6e6},{"amostra":"TPS/PCL (20/80) + TiO2","T":69.5,"G":2.2e6},{"amostra":"TPS/PCL (20/80) + TiO2","T":70,"G":1.9e6},{"amostra":"TPS/PCL (20/80) + TiO2","T":71,"G":1.5e6},{"amostra":"TPS/PCL (20/80) + TiO2","T":72,"G":1.2e6},{"amostra":"TPS/PCL (20/80) + TiO2","T":73,"G":1.0e6},{"amostra":"TPS/PCL (20/80) + TiO2","T":74,"G":0.9e6},{"amostra":"TPS/PCL (20/80) + TiO2","T":75,"G":0.8e6},{"amostra":"TPS/PCL (20/80) + TiO2","T":76,"G":0.7e6},{"amostra":"TPS/PCL (20/80) + TiO2","T":77,"G":0.65e6},{"amostra":"TPS/PCL (20/80) + TiO2","T":78,"G":0.6e6},{"amostra":"TPS/PCL (20/80) + TiO2","T":79,"G":0.55e6},{"amostra":"TPS/PCL (20/80) + TiO2","T":80,"G":0.5e6},{"amostra":"TPS/PCL (20/80) + TiO2","T":81,"G":0.45e6},{"amostra":"TPS/PCL (20/80) + TiO2","T":82,"G":0.4e6},{"amostra":"TPS/PCL (20/80) + TiO2","T":83,"G":0.35e6},{"amostra":"TPS/PCL (20/80) + TiO2","T":84,"G":0.3e6},{"amostra":"TPS/PCL (20/80) + TiO2","T":85,"G":0.3e6},{"amostra":"TPS/PCL (20/80) + TiO2","T":86,"G":0.25e6},{"amostra":"TPS/PCL (20/80) + TiO2","T":87,"G":0.2e6},{"amostra":"TPS/PCL (20/80) + TiO2","T":88,"G":0.2e6},{"amostra":"TPS/PCL (20/80) + TiO2","T":89,"G":0.15e6},{"amostra":"TPS/PCL (20/80) + TiO2","T":90,"G":0.1e6},{"amostra":"TPS/PCL (20/80) + TiO2","T":91,"G":0.1e6},{"amostra":"TPS/PCL (20/80) + TiO2","T":92,"G":0.05e6},{"amostra":"TPS/PCL (20/80) + TiO2","T":93,"G":0}
  ]},
  "resolve": {"axis": {"x": "independent", "y": "independent"}},
  "layer": [
    {
      "transform": [{"filter": "datum.amostra === 'TPS/PCL (20/80)'"}],
      "mark": {"type": "line", "strokeWidth": 1},
      "encoding": {
        "x": {"field": "T", "type": "quantitative",
          "scale": {"domain": [-100, 120], "nice": false, "zero": false},
          "axis": {"orient": "bottom", "values": [-100, -80, -60, -40, -20, 0, 20, 40, 60, 80, 100, 120],
            "labelExpr": "'' + datum.value",
            "grid": false, "domainColor": "black", "domainWidth": 2, "tickColor": "black", "tickWidth": 2, "tickSize": 12,
            "labelFontSize": 22, "labelFont": "Liberation Sans", "labelColor": "black", "labelPadding": 8,
            "title": "Temperatura (°C)", "titleFontSize": 28, "titleFont": "Liberation Sans", "titleFontWeight": "normal",
            "titleColor": "black", "titleBaseline": "alphabetic", "titleY": 84, "titleX": 400, "titleAnchor": "middle", "titleAlign": "center"}},
        "y": {"field": "G", "type": "quantitative",
          "scale": {"domain": [-10000000, 110000000], "nice": false, "zero": false},
          "axis": {"orient": "left", "values": [0, 20000000, 40000000, 60000000, 80000000, 100000000],
            "labelExpr": "datum.value === 0 ? '0,0' : (datum.value >= 100000000 ? '1,0x10⁸' : format(datum.value / 10000000, '.0f') + ',0x10⁷')",
            "grid": false, "domainColor": "black", "domainWidth": 2, "tickColor": "black", "tickWidth": 2, "tickSize": 12,
            "labelFontSize": 22, "labelFont": "Liberation Sans", "labelColor": "black", "labelPadding": 8,
            "title": "G'' (Pa)", "titleFontSize": 32, "titleFont": "Liberation Sans", "titleFontWeight": "normal",
            "titleColor": "black", "titleAngle": 270, "titleBaseline": "middle", "titleAlign": "center", "titleX": -123, "titleY": 320}},
        "stroke": {"field": "amostra", "type": "nominal",
          "scale": {"domain": ["TPS/PCL (20/80)", "TPS/PCL (20/80) + TiO2"], "range": ["#000000", "#0000cc"]},
          "legend": {
            "orient": "none", "legendX": 424, "legendY": 341, "title": null,
            "direction": "vertical",
            "fillColor": "white", "strokeColor": "#444444", "padding": 6,
            "symbolSize": 4356, "symbolStrokeWidth": 1, "symbolFillColor": "white",
            "symbolOffset": 11.5, "labelOffset": 6, "clipHeight": 31, "rowPadding": 2,
            "labelFontSize": 29, "labelFont": "Liberation Sans", "labelColor": "black", "labelLimit": 0,
            "encode": {"symbols": {"update": {
              "shape": {"signal": "datum.value === 'TPS/PCL (20/80)' ? 'M-1,0H-0.19M0.19,0H1M-0.19,-0.19H0.19V0.19H-0.19Z' : 'M-1,0H-0.2M0.2,0H1M-0.2,0A0.2,0.2 0 1,1 0.2,0A0.2,0.2 0 1,1 -0.2,0Z'"},
              "fill": {"value": "white"},
              "fillOpacity": {"value": 1},
              "opacity": {"value": 1}
            }}}
          }}
      }
    },
    {
      "transform": [{"filter": "datum.amostra === 'TPS/PCL (20/80)'"}],
      "mark": {"type": "point", "shape": "square", "size": 150, "filled": false, "fill": "white", "fillOpacity": 1, "strokeWidth": 1, "opacity": 1},
      "encoding": {
        "x": {"field": "T", "type": "quantitative",
          "axis": {"orient": "bottom", "values": [-90, -70, -50, -30, -10, 10, 30, 50, 70, 90, 110],
            "labels": false, "domain": false, "grid": false, "tickColor": "black", "tickWidth": 2, "tickSize": 6, "title": null}},
        "y": {"field": "G", "type": "quantitative",
          "axis": {"orient": "left", "values": [10000000, 30000000, 50000000, 70000000, 90000000],
            "labels": false, "domain": false, "grid": false, "tickColor": "black", "tickWidth": 2, "tickSize": 6, "title": null}},
        "stroke": {"field": "amostra", "type": "nominal"}
      }
    },
    {
      "transform": [{"filter": "datum.amostra === 'TPS/PCL (20/80) + TiO2'"}],
      "mark": {"type": "line", "strokeWidth": 1},
      "encoding": {
        "x": {"field": "T", "type": "quantitative", "axis": null},
        "y": {"field": "G", "type": "quantitative", "axis": null},
        "stroke": {"field": "amostra", "type": "nominal"}
      }
    },
    {
      "transform": [{"filter": "datum.amostra === 'TPS/PCL (20/80) + TiO2'"}],
      "mark": {"type": "point", "shape": "circle", "size": 150, "filled": false, "fill": "white", "fillOpacity": 1, "strokeWidth": 1, "opacity": 1},
      "encoding": {
        "x": {"field": "T", "type": "quantitative", "axis": null},
        "y": {"field": "G", "type": "quantitative", "axis": null},
        "stroke": {"field": "amostra", "type": "nominal"}
      }
    }
  ]
}
